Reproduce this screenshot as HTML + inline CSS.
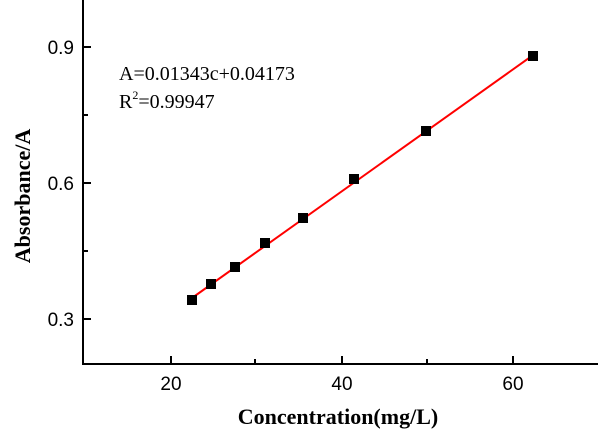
<!DOCTYPE html><html><head><style>body{margin:0;background:#fff}</style></head><body>
<svg width="602" height="431" xmlns="http://www.w3.org/2000/svg" style="display:block">
<g stroke="#000" stroke-width="2" fill="none">
<line x1="83" y1="0" x2="83" y2="365"/>
<line x1="82" y1="364" x2="598" y2="364"/>
<line x1="83" y1="47" x2="91" y2="47"/><line x1="83" y1="183" x2="91" y2="183"/><line x1="83" y1="319" x2="91" y2="319"/>
<line x1="83" y1="115" x2="88" y2="115"/><line x1="83" y1="251" x2="88" y2="251"/>
<line x1="171" y1="364" x2="171" y2="356"/><line x1="342" y1="364" x2="342" y2="356"/><line x1="513" y1="364" x2="513" y2="356"/>
<line x1="255" y1="364" x2="255" y2="359"/><line x1="427" y1="364" x2="427" y2="359"/>
</g>
<g font-family="Liberation Sans, sans-serif" font-size="19" fill="#000">
<text x="74" y="54" text-anchor="end">0.9</text>
<text x="74" y="190" text-anchor="end">0.6</text>
<text x="74" y="326" text-anchor="end">0.3</text>
<text x="171" y="390" text-anchor="middle">20</text>
<text x="342" y="390" text-anchor="middle">40</text>
<text x="513" y="390" text-anchor="middle">60</text>
</g>
<g font-family="Liberation Serif, serif" font-weight="bold" font-size="22">
<text x="338" y="424" text-anchor="middle">Concentration(mg/L)</text>
<text transform="translate(30,196) rotate(-90)" text-anchor="middle">Absorbance/A</text>
</g>
<g font-family="Liberation Serif, serif" font-size="20">
<text x="119" y="80">A=0.01343c+0.04173</text>
<text x="119" y="108">R<tspan font-size="12" dy="-9">2</tspan><tspan dy="9">=0.99947</tspan></text>
</g>
<line x1="192" y1="298" x2="536" y2="53" stroke="#f00" stroke-width="2"/>
<g fill="#000">
<rect x="187" y="295" width="10" height="10"/><rect x="206" y="279" width="10" height="10"/>
<rect x="230" y="262" width="10" height="10"/><rect x="260" y="238" width="10" height="10"/>
<rect x="298" y="213" width="10" height="10"/><rect x="349" y="174" width="10" height="10"/>
<rect x="421" y="126" width="10" height="10"/><rect x="528" y="51" width="10" height="10"/>
</g>
</svg></body></html>
